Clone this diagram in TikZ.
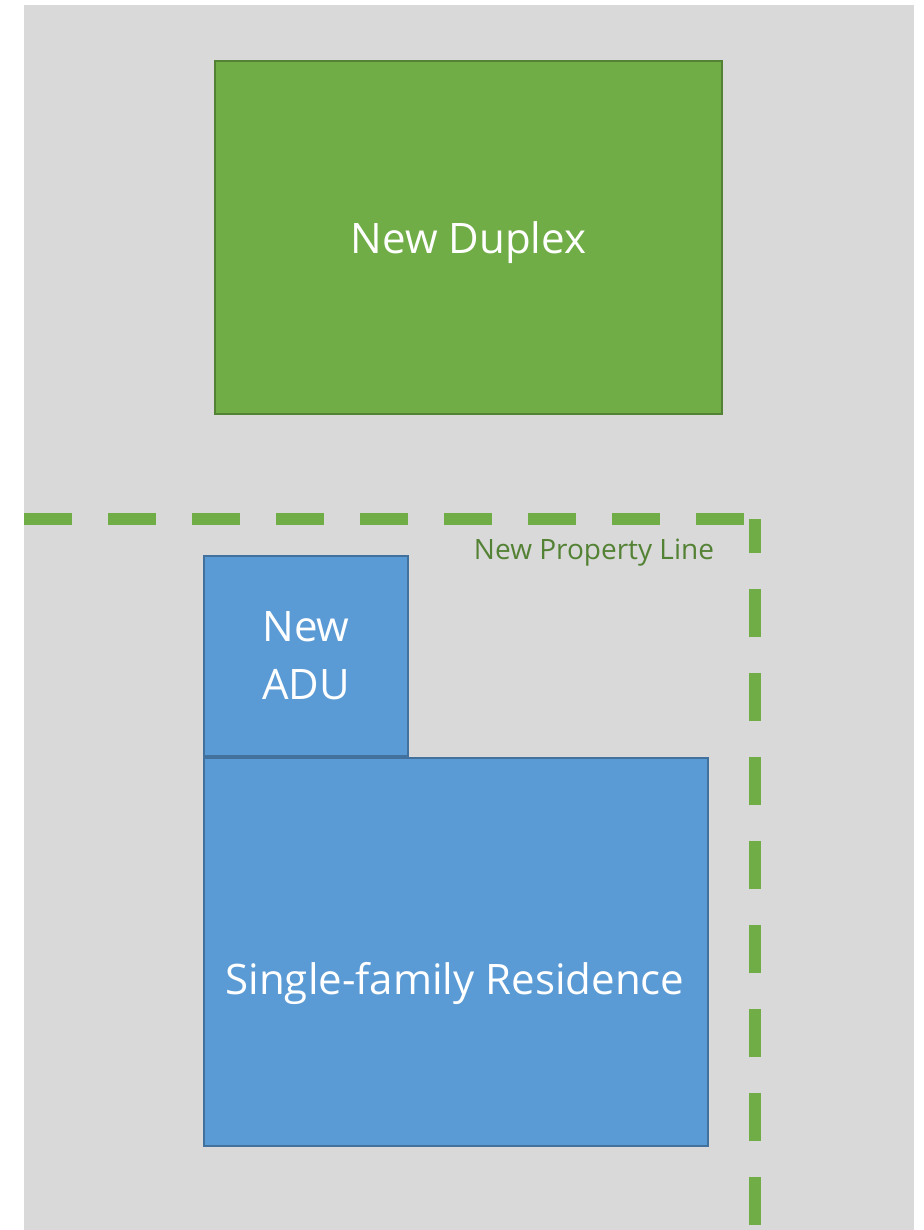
\documentclass[tikz,border=0pt]{standalone}
\usepackage{fontspec}
\setmainfont{Open Sans}
\usetikzlibrary{positioning}
\definecolor{lotgray}{HTML}{D9D9D9}
\definecolor{duplexgreen}{HTML}{70AD47}
\definecolor{duplexedge}{HTML}{548235}
\definecolor{housblue}{HTML}{5B9BD5}
\definecolor{housedge}{HTML}{41719C}
\tikzstyle{newbuilding}=[rectangle,draw=duplexedge,fill=duplexgreen,line width=2pt,text=white,font=\fontsize{42}{58}\selectfont,inner sep=0pt,text depth=0pt]
\tikzstyle{oldbuilding}=[rectangle,draw=housedge,fill=housblue,line width=2pt,text=white,font=\fontsize{42}{58}\selectfont,inner sep=0pt,align=center,text depth=0pt]
\tikzstyle{buildname}=[text=white,font=\fontsize{42}{58}\selectfont,inner sep=0pt]
\tikzstyle{propline}=[draw=duplexgreen,line width=12pt,dash pattern=on 48pt off 36pt]
\tikzstyle{linelabel}=[text=duplexedge,font=\fontsize{28}{32}\selectfont,inner sep=0pt]

\begin{document}
\begin{tikzpicture}[x=1pt,y=-1pt]
   \useasboundingbox (0,0) rectangle (923,1230);
   \fill[lotgray] (24,5) rectangle (914,1230);

   % buildings
   \node[newbuilding, minimum width=507pt, minimum height=353pt] (duplex) at (468.5,237.5) {New Duplex};
   \node[oldbuilding, minimum width=204pt, minimum height=200pt] (adu) at (306,656) {New\\ADU};
   \node[oldbuilding, minimum width=504pt, minimum height=388pt] (sfr) at (456,952) {};
   \node[buildname] (sfrname) at (455,983) {Single-family Residence};

   % property line
   \coordinate (lineW) at (24,519);
   \coordinate (lineE) at (744,519);
   \coordinate (lineN) at (755,519);
   \coordinate (lineS) at (755,1225);
   \path[propline] (lineW) -- (lineE);
   \path[propline] (lineS) -- (lineN);
   \node[linelabel] (proplabel) at (594,553) {New Property Line};

\end{tikzpicture}
\end{document}
